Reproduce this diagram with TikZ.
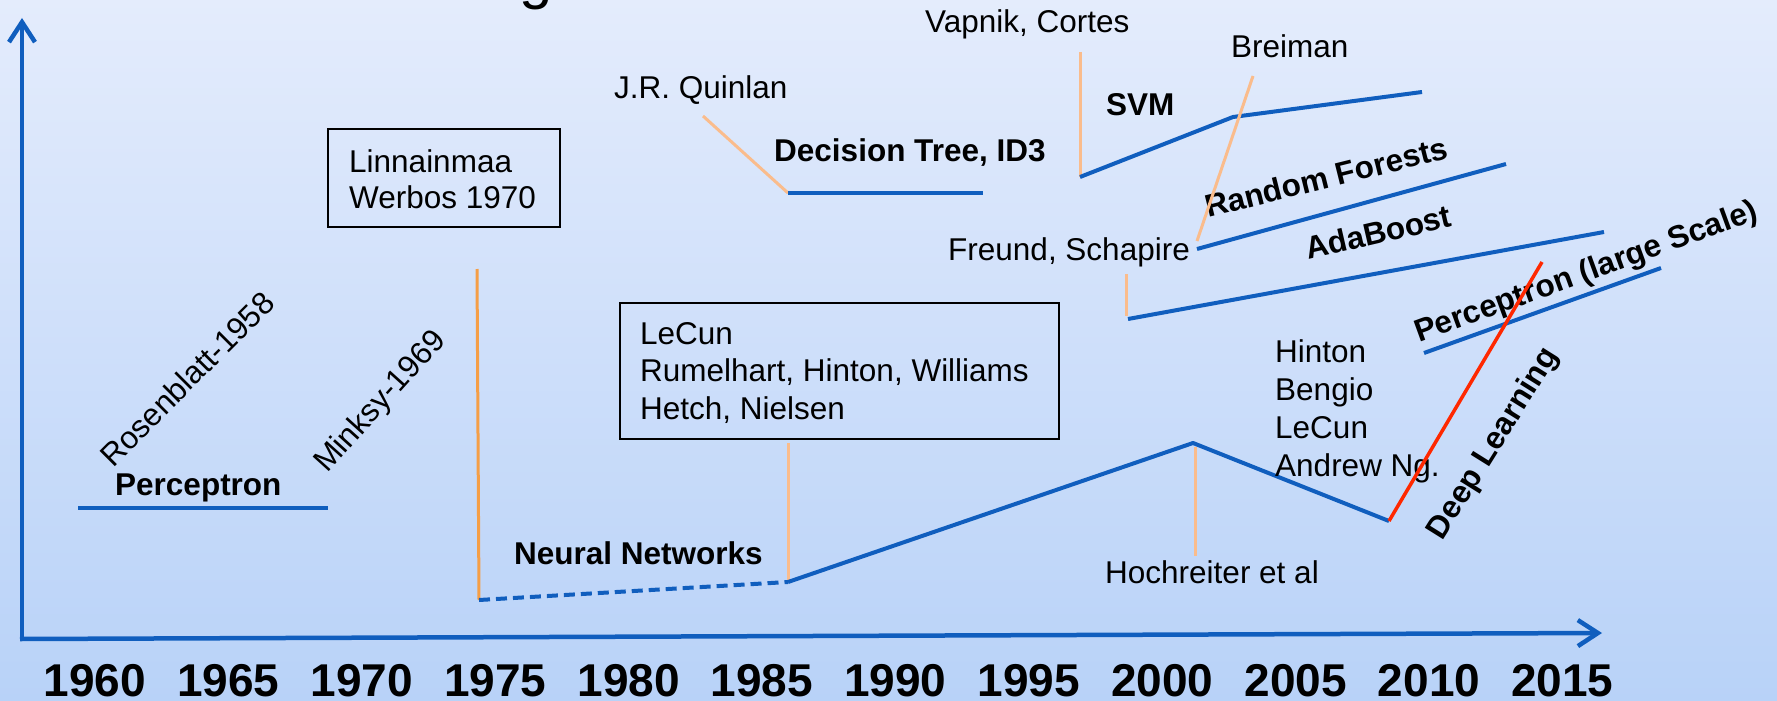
\documentclass[tikz,border=0pt]{standalone}
\usepackage{fontspec}
\setmainfont{Liberation Sans}
\usetikzlibrary{arrows.meta}
\definecolor{lineblue}{RGB}{16,94,190}
\definecolor{peach}{RGB}{250,188,140}
\definecolor{orng}{RGB}{245,158,70}
\definecolor{dlred}{RGB}{255,40,0}
\definecolor{bgtop}{RGB}{228,236,252}
\definecolor{bgbot}{RGB}{184,210,248}
\begin{document}
\begin{tikzpicture}[x=1pt,y=-1pt,
  txt/.style={inner sep=0pt, anchor=base west, font=\fontsize{31.5}{36}\selectfont},
  btxt/.style={inner sep=0pt, anchor=base west, font=\fontsize{31.5}{36}\selectfont\bfseries},
  year/.style={inner sep=0pt, anchor=base, font=\fontsize{46}{50}\selectfont\bfseries},
  trend/.style={draw=lineblue, line width=4pt},
  lead/.style={draw=peach, line width=3pt},
  axisline/.style={draw=lineblue, line width=4.5pt, -{Straight Barb[length=20pt,width=26pt]}},
  infobox/.style={draw=black, line width=2pt}
]
\useasboundingbox (0,0) rectangle (1777,701);
\clip (0,0) rectangle (1777,701);
\fill[top color=bgtop, bottom color=bgbot] (0,0) rectangle (1777,701);

% partial title
\node[inner sep=0pt, anchor=base, font=\fontsize{60}{66}\selectfont] (title) at (536,-2) {g};

% axes
\coordinate (origin) at (22,638);
\coordinate (ytip) at (22,18);
\coordinate (xstart) at (20,639);
\coordinate (xtip) at (1602,633);
\draw[axisline] (origin) -- (ytip);
\draw[axisline] (xstart) -- (xtip);

% years
\foreach \yr [count=\i from 0] in {1960,1965,1970,1975,1980,1985,1990,1995,2000,2005,2010,2015}
  \node[year] (y\yr) at (95+133.4*\i,696) {\yr};

% Perceptron
\coordinate (p0) at (78,508);
\coordinate (p1) at (328,508);
\draw[trend] (p0) -- (p1);
\node[btxt] (perc) at (115,495) {Perceptron};
\node[inner sep=0pt, rotate=45, font=\fontsize{31.5}{36}\selectfont] (rosen) at (187,379) {Rosenblatt-1958};
\node[inner sep=0pt, rotate=48, font=\fontsize{31.5}{36}\selectfont] (minsky) at (381,402) {Minksy-1969};

% Linnainmaa box
\draw[infobox] (328,129) rectangle (560,227);
\node[txt] (linn) at (349,172) {Linnainmaa};
\node[txt] (werb) at (349,208) {Werbos 1970};

% Neural network trend
\coordinate (n0a) at (477,269);
\coordinate (n0) at (479,600);
\coordinate (n1) at (788,582);
\coordinate (n1a) at (788,443);
\coordinate (n2) at (1193,443);
\coordinate (n2a) at (1195,447);
\coordinate (n2b) at (1195,556);
\coordinate (n3) at (1389,521);
\coordinate (dltop) at (1542,262);
\draw[draw=orng, line width=3pt] (n0a) -- (n0);
\draw[lead] (n1a) -- (n1);
\draw[lead] (n2a) -- (n2b);
\draw[trend, dash pattern=on 11pt off 6pt] (n0) -- (n1);
\draw[trend, line join=round] (n1) -- (n2) -- (n3);
\node[btxt] (nn) at (514,564) {Neural Networks};
\node[txt] (hoch) at (1105,583) {Hochreiter et al};

% LeCun box
\draw[infobox] (620,303) rectangle (1059,439);
\node[txt] (lecun1) at (640,344) {LeCun};
\node[txt] (rumel) at (640,381.5) {Rumelhart, Hinton, Williams};
\node[txt] (hetch) at (640,419) {Hetch, Nielsen};

% Decision tree
\coordinate (d0) at (703,116);
\coordinate (d1) at (788,193);
\coordinate (d2) at (983,193);
\draw[lead] (d0) -- (d1);
\draw[trend] (d1) -- (d2);
\node[txt] (quin) at (614,99) {J.R. Quinlan};
\node[btxt] (dt) at (774,161) {Decision Tree, ID3};

% SVM
\coordinate (s0) at (1080,52);
\coordinate (s1) at (1080,177);
\coordinate (s2) at (1233,117);
\coordinate (s3) at (1422,92);
\draw[lead] (s0) -- (s1);
\draw[trend, line join=round] (s1) -- (s2) -- (s3);
\node[txt] (vap) at (925,33) {Vapnik, Cortes};
\node[btxt] (svm) at (1106,115) {SVM};

% Random forests
\coordinate (r0) at (1197,249);
\coordinate (r1) at (1506,164);
\coordinate (b0) at (1253,76);
\coordinate (b1) at (1197,241);
\draw[trend] (r0) -- (r1);
\node[txt] (brei) at (1231,58) {Breiman};
\node[inner sep=0pt, anchor=base west, rotate=14, font=\fontsize{31.5}{36}\selectfont\bfseries] (rf) at (1208,218) {Random Forests};
\draw[lead] (b0) -- (b1);

% AdaBoost
\coordinate (a0) at (1126,274);
\coordinate (a1) at (1126,316);
\coordinate (a2) at (1128,319);
\coordinate (a3) at (1604,232);
\draw[lead] (a0) -- (a1);
\draw[trend] (a2) -- (a3);
\node[txt] (freund) at (948,260) {Freund, Schapire};
\node[inner sep=0pt, anchor=base west, rotate=13, font=\fontsize{31.5}{36}\selectfont\bfseries] (ada) at (1308,260) {AdaBoost};

% Perceptron large scale
\coordinate (l0) at (1424,353);
\coordinate (l1) at (1661,268);
\draw[trend] (l0) -- (l1);
\node[inner sep=0pt, anchor=base west, rotate=20, font=\fontsize{31.5}{36}\selectfont\bfseries] (pls) at (1419,343) {Perceptron (large Scale)};

% Deep learning
\node[txt] (hinton) at (1275,362) {Hinton};
\node[txt] (bengio) at (1275,400) {Bengio};
\node[txt] (lecun2) at (1275,438) {LeCun};
\node[txt] (ng) at (1275,476) {Andrew Ng.};
\draw[draw=dlred, line width=3.5pt] (n3) -- (dltop);
\node[inner sep=0pt, rotate=58, font=\fontsize{31.5}{36}\selectfont\bfseries] (dl) at (1494,444) {Deep Learning};
\end{tikzpicture}
\end{document}
